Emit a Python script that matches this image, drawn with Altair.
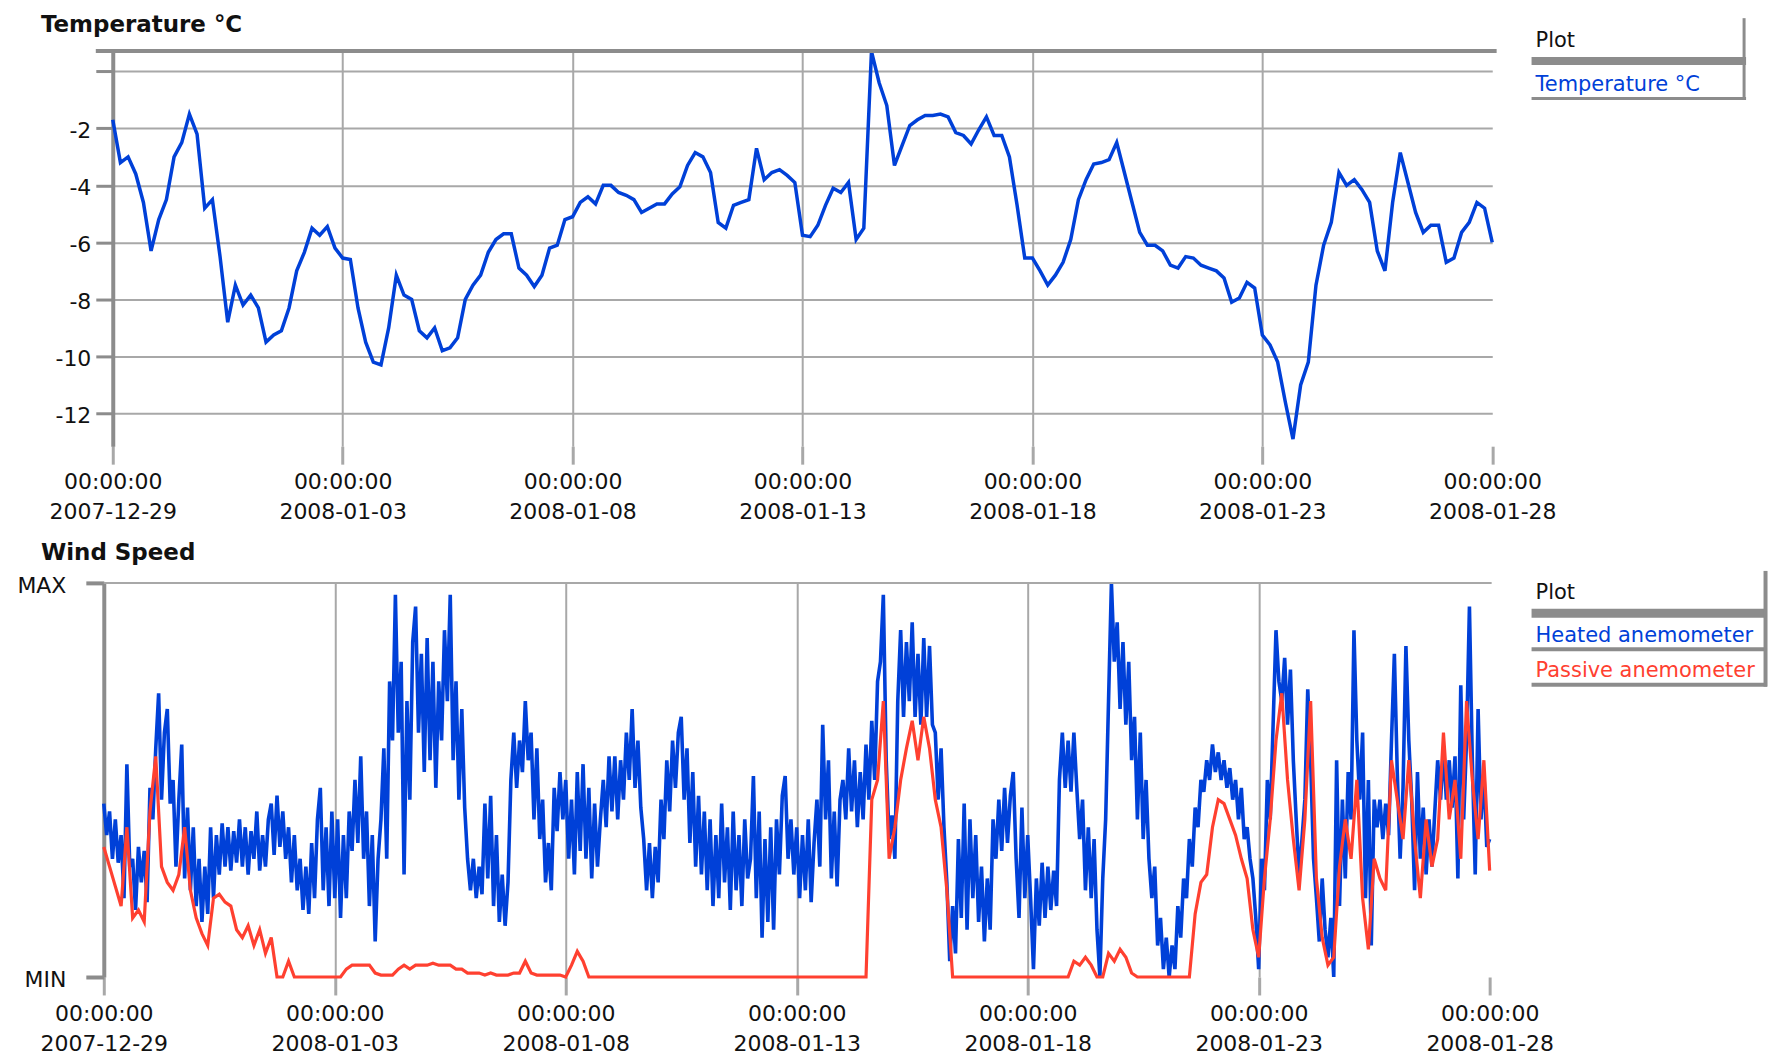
import altair as alt
import pandas as pd

# ---------------- data ----------------
TEMP_START = "2007-12-29T00:00:00"
TEMP_STEP_HOURS = 4
TEMPERATURE = [
    -1.7, -3.2, -3.0, -3.6, -4.6, -6.3, -5.2, -4.5, -3.0, -2.5,
    -1.5, -2.2, -4.8, -4.5, -6.5, -8.8, -7.5, -8.2, -7.85, -8.3,
    -9.5, -9.25, -9.1, -8.3, -7.0, -6.35, -5.5, -5.75, -5.45, -6.2,
    -6.55, -6.6, -8.3, -9.5, -10.2, -10.3, -9.0, -7.15, -7.85, -8.0,
    -9.1, -9.35, -9.0, -9.8, -9.7, -9.35, -8.0, -7.5, -7.15, -6.35,
    -5.9, -5.7, -5.7, -6.9, -7.15, -7.55, -7.15, -6.2, -6.1, -5.2,
    -5.1, -4.6, -4.4, -4.65, -4.0, -4.0, -4.25, -4.35, -4.5, -4.95,
    -4.8, -4.65, -4.65, -4.3, -4.05, -3.3, -2.85, -3.0, -3.55, -5.3,
    -5.5, -4.7, -4.6, -4.5, -2.7, -3.8, -3.55, -3.45, -3.65, -3.9,
    -5.75, -5.8, -5.4, -4.7, -4.1, -4.25, -3.9, -5.9, -5.5, 0.7,
    -0.4, -1.2, -3.3, -2.6, -1.9, -1.7, -1.55, -1.55, -1.5, -1.6,
    -2.15, -2.25, -2.55, -2.05, -1.6, -2.25, -2.25, -3.0, -4.7, -6.55,
    -6.55, -7.0, -7.5, -7.15, -6.7, -5.9, -4.5, -3.8, -3.25, -3.2,
    -3.1, -2.5, -3.55, -4.6, -5.65, -6.1, -6.1, -6.3, -6.8, -6.9,
    -6.5, -6.55, -6.8, -6.9, -7.0, -7.25, -8.1, -7.95, -7.4, -7.6,
    -9.25, -9.6, -10.2, -11.6, -12.9, -11.0, -10.2, -7.5, -6.1, -5.3,
    -3.55, -4.0, -3.8, -4.15, -4.6, -6.3, -7.0, -4.6, -2.85, -3.9,
    -4.95, -5.65, -5.4, -5.4, -6.7, -6.55, -5.65, -5.3, -4.6, -4.8,
    -6.0,
]

WIND_START = "2007-12-29T00:00:00"
HEATED_STEP_MINUTES = 90
HEATED = [
    44, 36, 42, 30, 40, 29, 36, 20, 54, 28, 30, 17, 33, 24, 32, 19,
    48, 40, 58, 72, 45, 62, 68, 44, 50, 28, 45, 59, 25, 43, 22, 38,
    18, 30, 14, 28, 16, 38, 20, 36, 26, 39, 28, 38, 27, 37, 29, 40,
    28, 38, 26, 37, 30, 42, 27, 36, 28, 40, 44, 31, 46, 33, 42, 30,
    38, 24, 36, 22, 30, 17, 28, 16, 34, 20, 40, 48, 22, 38, 18, 42,
    20, 40, 15, 36, 20, 42, 32, 50, 34, 56, 30, 42, 18, 36, 9, 30,
    40, 58, 30, 75, 60, 97, 62, 80, 26, 70, 45, 85, 94, 62, 82, 52,
    86, 55, 80, 48, 75, 60, 88, 70, 97, 55, 75, 45, 68, 43, 30, 22,
    30, 20, 28, 21, 44, 25, 46, 18, 36, 14, 26, 13, 24, 50, 62, 48,
    60, 52, 70, 55, 62, 40, 58, 35, 45, 24, 34, 22, 48, 37, 52, 40,
    50, 30, 45, 26, 52, 32, 54, 30, 48, 25, 44, 28, 40, 50, 38, 56,
    42, 56, 40, 55, 45, 62, 50, 68, 48, 60, 43, 35, 22, 34, 20, 33,
    24, 45, 35, 55, 42, 60, 48, 62, 66, 45, 58, 34, 52, 28, 46, 26,
    42, 22, 40, 18, 36, 20, 44, 24, 38, 17, 42, 22, 36, 18, 40, 25,
    30, 51, 20, 42, 10, 35, 14, 38, 12, 40, 26, 46, 51, 30, 40, 26,
    38, 20, 36, 22, 40, 19, 34, 45, 28, 64, 40, 55, 25, 42, 23, 45,
    50, 40, 58, 42, 55, 38, 52, 40, 59, 45, 65, 50, 75, 80, 97, 55,
    35, 41, 30, 70, 88, 66, 85, 70, 90, 66, 82, 64, 86, 66, 84, 64,
    62, 45, 58, 38, 24, 4, 18, 6, 35, 15, 44, 12, 40, 20, 36, 14,
    28, 9, 25, 12, 40, 30, 45, 32, 48, 34, 46, 52, 30, 15, 43, 20,
    36, 20, 2, 25, 13, 29, 15, 28, 17, 27, 18, 50, 62, 48, 60, 47,
    62, 48, 35, 45, 22, 38, 20, 35, 12, 0, 25, 40, 70, 100, 80, 90,
    68, 85, 64, 80, 55, 66, 40, 62, 35, 50, 30, 20, 28, 8, 15, 2,
    10, 0, 8, 2, 18, 10, 25, 20, 35, 28, 43, 38, 50, 47, 55, 50,
    59, 52, 57, 50, 55, 48, 53, 45, 50, 40, 48, 35, 38, 30, 25, 15,
    2, 30, 22, 50, 40, 64, 88, 75, 70, 81, 64, 78, 55, 40, 26, 35,
    45, 73, 55, 30, 20, 9, 25, 12, 5, 15, 0, 55, 18, 45, 25, 52,
    40, 88, 60, 45, 62, 20, 50, 8, 45, 38, 45, 35, 44, 36, 60, 82,
    52, 30, 48, 84, 60, 45, 22, 52, 30, 43, 26, 40, 28, 42, 55, 45,
    58, 45, 55, 43, 56, 25, 74, 40, 60, 94, 55, 26, 68, 40, 52, 33,
    35,
]

PASSIVE_STEP_MINUTES = 180
PASSIVE = [
    33, 28, 23, 18, 38, 15, 17, 14,
    42, 56, 28, 24, 22, 26, 38, 22,
    15, 11, 8, 20, 21, 19, 18, 12,
    10, 13, 8, 12, 6, 10, 0, 0,
    4, 0, 0, 0, 0, 0, 0, 0,
    0, 0, 2, 3, 3, 3, 3, 1,
    0.5, 0.5, 0.5, 2, 3, 2, 3, 3,
    3, 3.5, 3, 3, 3, 2, 2, 1,
    1, 1, 0.5, 1, 0.5, 0.5, 0.5, 1,
    1, 4, 1, 0.5, 0.5, 0.5, 0.5, 0.5,
    0, 3, 6.5, 4, 0, 0, 0, 0,
    0, 0, 0, 0, 0, 0, 0, 0,
    0, 0, 0, 0, 0, 0, 0, 0,
    0, 0, 0, 0, 0, 0, 0, 0,
    0, 0, 0, 0, 0, 0, 0, 0,
    0, 0, 0, 0, 0, 0, 0, 0,
    0, 0, 0, 0, 0, 45, 50, 70,
    30, 38, 50, 58, 65, 55, 66, 58,
    45, 38, 22, 0, 0, 0, 0, 0,
    0, 0, 0, 0, 0, 0, 0, 0,
    0, 0, 0, 0, 0, 0, 0, 0,
    4, 3, 5, 3, 0, 0, 6, 4,
    7, 5, 1, 0, 0, 0, 0, 0,
    0, 0, 0, 0, 0, 16, 24, 26,
    38, 45, 44, 40, 36, 30, 25, 12,
    5, 25, 40, 60, 72, 50, 35, 22,
    40, 70, 25, 10, 3, 5, 28, 40,
    30, 50, 20, 7, 30, 25, 22, 55,
    45, 35, 55, 35, 20, 40, 28, 35,
    62, 40, 50, 30, 70, 50, 35, 55,
    27,
]

TICK_DATES = ["2007-12-29", "2008-01-03", "2008-01-08", "2008-01-13",
              "2008-01-18", "2008-01-23", "2008-01-28"]
TEMP_Y_TICKS = [0, -2, -4, -6, -8, -10, -12]
TEMP_Y_DOMAIN = [-13.15, 0.71]
WIND_Y_TICKS = [0, 100]
WIND_Y_LABELS = ["MIN", "MAX"]

TITLE_TEMP = "Temperature °C"
TITLE_WIND = "Wind Speed"
LEGEND_HEADER = "Plot"
SERIES_TEMP = "Temperature °C"
SERIES_HEATED = "Heated anemometer"
SERIES_PASSIVE = "Passive anemometer"

# ---------------- styles ----------------
FONT = "DejaVu Sans"
BLUE = "#0040d8"
RED = "#ff4030"
AXIS_GRAY = "#8c8c8c"
GRID_GRAY = "#a8a8a8"
TXT = "#111111"


def to_ms(ts):
    return int(pd.Timestamp(ts).value // 10**6)


def series_frame(start, step_minutes, values):
    t = pd.date_range(start, periods=len(values), freq=f"{step_minutes}min")
    return pd.DataFrame({"time": t.asi8 // 10**6, "value": values})


df_temp = series_frame(TEMP_START, TEMP_STEP_HOURS * 60, TEMPERATURE)
df_heated = series_frame(WIND_START, HEATED_STEP_MINUTES, HEATED)
df_passive = series_frame(WIND_START, PASSIVE_STEP_MINUTES, PASSIVE)

tick_ms = [to_ms(d) for d in TICK_DATES]
x_domain = [tick_ms[0], tick_ms[-1]]
last_tick = tick_ms[-1]

x_label_expr = "[utcFormat(datum.value, '%H:%M:%S'), utcFormat(datum.value, '%Y-%m-%d')]"
grid_cond = {"condition": {"test": f"datum.value >= {last_tick}", "value": 0}, "value": 1}


def x_axis(label_padding):
    return alt.Axis(
        values=tick_ms, labelExpr=x_label_expr, title=None,
        grid=True, gridColor=GRID_GRAY, gridWidth=2, gridOpacity=grid_cond,
        domain=False, ticks=True, tickSize=18, tickWidth=3, tickColor=GRID_GRAY,
        labelFont=FONT, labelFontSize=22, labelColor=TXT, labelPadding=label_padding,
        labelLineHeight=30, labelOverlap=False, labelFlush=False, labelBaseline="top",
    )


def text_layer(txt, x, y, color=TXT, size=21, bold=False):
    return alt.Chart(pd.DataFrame({"t": [txt]})).mark_text(
        align="left", baseline="alphabetic", font=FONT, fontSize=size,
        fontWeight="bold" if bold else "normal", color=color,
    ).encode(text="t:N", x=alt.value(x), y=alt.value(y))


def rule_layer(x1, x2, y1, y2, width, color=AXIS_GRAY):
    return alt.Chart(pd.DataFrame({"a": [0]})).mark_rule(
        color=color, strokeWidth=width, strokeCap="butt"
    ).encode(x=alt.value(x1), x2=alt.value(x2), y=alt.value(y1), y2=alt.value(y2))


# ---------------- top panel: temperature ----------------
TOP_W, TOP_H = 1396, 396
temp_line = alt.Chart(df_temp).mark_line(color=BLUE, strokeWidth=3.5).encode(
    x=alt.X("time:T", scale=alt.Scale(domain=x_domain, range=[9, 1391.6], nice=False),
            axis=x_axis(7)),
    y=alt.Y("value:Q", scale=alt.Scale(domain=TEMP_Y_DOMAIN, nice=False, zero=False),
            axis=alt.Axis(
                values=TEMP_Y_TICKS, title=None,
                labelExpr="datum.value === 0 ? '' : '' + datum.value",
                grid=True, gridColor=GRID_GRAY, gridWidth=2,
                domain=True, domainColor=AXIS_GRAY, domainWidth=4,
                ticks=True, tickSize=17, tickWidth=3, tickColor=AXIS_GRAY,
                labelFont=FONT, labelFontSize=22, labelColor=TXT, labelPadding=5,
                labelOffset=2, offset=-9,
            )),
)

top = alt.layer(
    temp_line,
    rule_layer(-8, 1396, 0, 0, 4),
    text_layer(TITLE_TEMP, -63, -19, size=23, bold=True),
    text_layer(LEGEND_HEADER, 1435, -4),
    text_layer(SERIES_TEMP, 1435, 40, color=BLUE),
    rule_layer(1431, 1646, 10, 10, 8),
    rule_layer(1431, 1646, 47.5, 47.5, 3),
    rule_layer(1644, 1644, -33, 49, 3),
).properties(width=TOP_W, height=TOP_H)

# ---------------- bottom panel: wind ----------------
BOT_W, BOT_H = 1389, 395
wind_x = alt.X("time:T", scale=alt.Scale(domain=x_domain, nice=False), axis=x_axis(9))
wind_y_scale = alt.Scale(domain=[0, 100], nice=False, zero=False)
wind_y_axis = alt.Axis(
    values=WIND_Y_TICKS, title=None,
    labelExpr=f"datum.value === 0 ? '{WIND_Y_LABELS[0]}' : '{WIND_Y_LABELS[1]}'",
    grid=False, domain=True, domainColor=AXIS_GRAY, domainWidth=4,
    ticks=True, tickSize=18, tickWidth=4, tickColor=AXIS_GRAY,
    labelFont=FONT, labelFontSize=22, labelColor=TXT, labelPadding=20, labelOffset=3,
)

heated_line = alt.Chart(df_heated).mark_line(color=BLUE, strokeWidth=3.6).encode(
    x=wind_x, y=alt.Y("value:Q", scale=wind_y_scale, axis=wind_y_axis)
)
passive_line = alt.Chart(df_passive).mark_line(color=RED, strokeWidth=3.2).encode(
    x=wind_x, y=alt.Y("value:Q", scale=wind_y_scale, axis=wind_y_axis)
)

bottom = alt.layer(
    heated_line,
    passive_line,
    rule_layer(0, 1391, 0, 0, 2, GRID_GRAY),
    text_layer(TITLE_WIND, -63, -23, size=23, bold=True),
    text_layer(LEGEND_HEADER, 1435, 16),
    rule_layer(1431, 1667, 30.5, 30.5, 9),
    text_layer(SERIES_HEATED, 1435, 59, color=BLUE),
    rule_layer(1431, 1667, 66.5, 66.5, 4),
    text_layer(SERIES_PASSIVE, 1435, 94, color=RED),
    rule_layer(1431, 1667, 102, 102, 4),
    rule_layer(1665.5, 1665.5, -12, 104, 4),
).properties(width=BOT_W, height=BOT_H)

chart = alt.vconcat(top, bottom, spacing=137, bounds="flush").properties(
    padding={"left": 8, "top": 5, "right": 5, "bottom": 5}
).configure(background="white").configure_view(stroke=None)

chart.save("out.html", embed_options={"renderer": "svg", "actions": False})
